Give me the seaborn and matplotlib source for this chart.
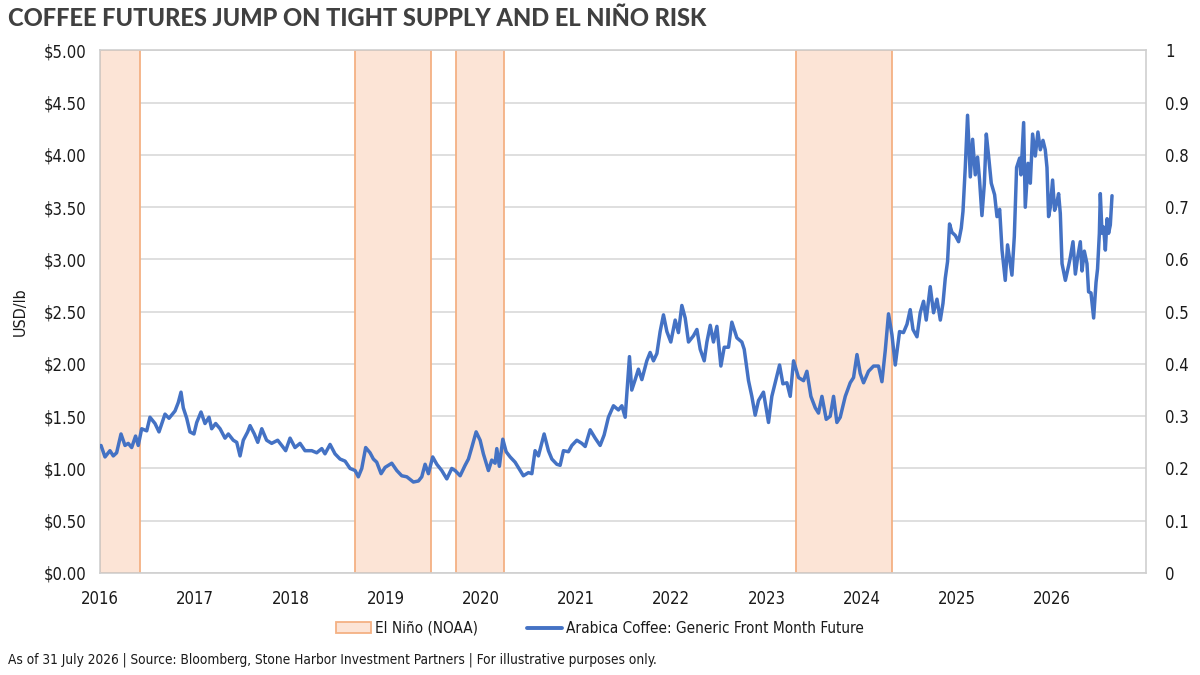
import matplotlib
matplotlib.use("Agg")
import matplotlib.pyplot as plt
from matplotlib.patches import Patch
from matplotlib.lines import Line2D
from matplotlib.ticker import FuncFormatter
import seaborn as sns
import pandas as pd

# El Nino periods (decimal years)
nino_start = [2016.0, 2018.68, 2019.74, 2023.31]
nino_end = [2016.42, 2019.48, 2020.24, 2024.32]

# Arabica coffee front month, USD/lb
years = [
    2016.011, 2016.053, 2016.105, 2016.140, 2016.175, 2016.221, 2016.263, 2016.297, 2016.333, 2016.374,
    2016.402, 2016.438, 2016.491, 2016.525, 2016.578, 2016.620, 2016.683, 2016.725, 2016.788, 2016.822,
    2016.851, 2016.875, 2016.911, 2016.945, 2016.987, 2017.016, 2017.061, 2017.103, 2017.145, 2017.173,
    2017.215, 2017.261, 2017.313, 2017.348, 2017.400, 2017.436, 2017.471, 2017.505, 2017.551, 2017.576,
    2017.621, 2017.657, 2017.699, 2017.750, 2017.803, 2017.866, 2017.909, 2017.950, 2017.996, 2018.048,
    2018.101, 2018.153, 2018.224, 2018.276, 2018.329, 2018.363, 2018.416, 2018.468, 2018.521, 2018.574,
    2018.626, 2018.679, 2018.713, 2018.749, 2018.790, 2018.836, 2018.871, 2018.906, 2018.952, 2018.994,
    2019.064, 2019.117, 2019.169, 2019.222, 2019.291, 2019.344, 2019.379, 2019.414, 2019.449, 2019.494,
    2019.537, 2019.589, 2019.642, 2019.694, 2019.729, 2019.782, 2019.834, 2019.869, 2019.904, 2019.950,
    2019.992, 2020.026, 2020.079, 2020.114, 2020.149, 2020.167, 2020.194, 2020.230, 2020.265, 2020.307,
    2020.359, 2020.412, 2020.446, 2020.499, 2020.535, 2020.569, 2020.604, 2020.664, 2020.709, 2020.745,
    2020.797, 2020.832, 2020.867, 2020.919, 2020.955, 2021.007, 2021.060, 2021.095, 2021.147, 2021.200,
    2021.252, 2021.294, 2021.339, 2021.392, 2021.444, 2021.480, 2021.515, 2021.560, 2021.584, 2021.620,
    2021.654, 2021.690, 2021.742, 2021.777, 2021.812, 2021.848, 2021.882, 2021.917, 2021.953, 2021.994,
    2022.040, 2022.074, 2022.110, 2022.145, 2022.180, 2022.232, 2022.268, 2022.303, 2022.345, 2022.373,
    2022.408, 2022.442, 2022.478, 2022.520, 2022.555, 2022.600, 2022.635, 2022.688, 2022.740, 2022.765,
    2022.810, 2022.845, 2022.880, 2022.915, 2022.967, 2023.020, 2023.055, 2023.090, 2023.136, 2023.171,
    2023.213, 2023.248, 2023.283, 2023.335, 2023.388, 2023.423, 2023.465, 2023.511, 2023.545, 2023.581,
    2023.626, 2023.668, 2023.703, 2023.738, 2023.773, 2023.826, 2023.878, 2023.913, 2023.949, 2023.983,
    2024.018, 2024.070, 2024.123, 2024.175, 2024.211, 2024.246, 2024.280, 2024.316, 2024.351, 2024.396,
    2024.437, 2024.474, 2024.508, 2024.537, 2024.579, 2024.613, 2024.648, 2024.676, 2024.718, 2024.753,
    2024.789, 2024.824, 2024.852, 2024.876, 2024.900, 2024.921, 2024.946, 2024.981, 2025.016, 2025.044,
    2025.062, 2025.086, 2025.110, 2025.139, 2025.163, 2025.191, 2025.215, 2025.236, 2025.261, 2025.286,
    2025.307, 2025.331, 2025.359, 2025.394, 2025.419, 2025.447, 2025.472, 2025.506, 2025.530, 2025.576,
    2025.601, 2025.625, 2025.657, 2025.671, 2025.699, 2025.716, 2025.745, 2025.769, 2025.793, 2025.821,
    2025.849, 2025.874, 2025.902, 2025.926, 2025.944, 2025.961, 2025.979, 2026.003, 2026.024, 2026.049,
    2026.066, 2026.084, 2026.102, 2026.137, 2026.171, 2026.189, 2026.217, 2026.242, 2026.266, 2026.294,
    2026.312, 2026.336, 2026.364, 2026.381, 2026.406, 2026.434, 2026.459, 2026.475, 2026.494, 2026.504,
    2026.522, 2026.539, 2026.557, 2026.575, 2026.591, 2026.609, 2026.627,
]
price = [
    1.22, 1.11, 1.17, 1.12, 1.15, 1.33, 1.22, 1.24, 1.20, 1.31,
    1.22, 1.38, 1.36, 1.49, 1.43, 1.35, 1.52, 1.48, 1.55, 1.63,
    1.73, 1.58, 1.48, 1.35, 1.33, 1.44, 1.54, 1.43, 1.49, 1.38,
    1.43, 1.38, 1.29, 1.33, 1.27, 1.25, 1.12, 1.27, 1.35, 1.41,
    1.33, 1.25, 1.38, 1.27, 1.24, 1.27, 1.22, 1.17, 1.29, 1.20,
    1.24, 1.17, 1.17, 1.15, 1.19, 1.14, 1.23, 1.14, 1.09, 1.07,
    1.00, 0.98, 0.92, 1.00, 1.20, 1.15, 1.09, 1.06, 0.95, 1.01,
    1.05, 0.98, 0.93, 0.92, 0.87, 0.88, 0.92, 1.04, 0.95, 1.11,
    1.04, 0.98, 0.90, 1.00, 0.98, 0.93, 1.03, 1.09, 1.20, 1.35,
    1.27, 1.14, 0.98, 1.08, 1.05, 1.19, 1.02, 1.28, 1.16, 1.11,
    1.06, 0.98, 0.93, 0.96, 0.95, 1.17, 1.12, 1.33, 1.17, 1.09,
    1.04, 1.03, 1.17, 1.16, 1.22, 1.27, 1.24, 1.21, 1.37, 1.29,
    1.22, 1.32, 1.49, 1.60, 1.56, 1.60, 1.49, 2.07, 1.75, 1.85,
    1.95, 1.85, 2.03, 2.11, 2.03, 2.10, 2.31, 2.47, 2.31, 2.21,
    2.42, 2.30, 2.56, 2.44, 2.21, 2.27, 2.33, 2.14, 2.03, 2.21,
    2.37, 2.21, 2.36, 1.98, 2.16, 2.16, 2.40, 2.25, 2.21, 2.14,
    1.84, 1.69, 1.51, 1.65, 1.73, 1.44, 1.69, 1.82, 1.99, 1.81,
    1.82, 1.69, 2.03, 1.87, 1.84, 1.93, 1.69, 1.58, 1.53, 1.69,
    1.47, 1.50, 1.69, 1.44, 1.49, 1.69, 1.82, 1.87, 2.09, 1.91,
    1.82, 1.93, 1.98, 1.98, 1.83, 2.13, 2.48, 2.28, 1.99, 2.31,
    2.30, 2.38, 2.52, 2.33, 2.26, 2.49, 2.60, 2.42, 2.74, 2.49,
    2.62, 2.42, 2.58, 2.82, 2.98, 3.34, 3.26, 3.23, 3.17, 3.30,
    3.46, 3.88, 4.38, 3.79, 4.15, 3.81, 3.98, 3.76, 3.42, 3.72,
    4.20, 3.99, 3.73, 3.62, 3.41, 3.48, 3.09, 2.80, 3.14, 2.85,
    3.22, 3.88, 3.97, 3.81, 4.31, 3.50, 3.92, 3.73, 4.20, 3.99,
    4.22, 4.05, 4.14, 4.05, 3.88, 3.41, 3.50, 3.76, 3.47, 3.55,
    3.63, 3.44, 2.96, 2.80, 2.94, 3.02, 3.17, 2.86, 3.02, 3.17,
    2.89, 3.08, 2.96, 2.69, 2.68, 2.44, 2.78, 2.91, 3.25, 3.63,
    3.25, 3.31, 3.09, 3.39, 3.25, 3.33, 3.61,
]

year_ticks = list(range(2016, 2027))
price_ticks = [0, 0.5, 1.0, 1.5, 2.0, 2.5, 3.0, 3.5, 4.0, 4.5, 5.0]
right_ticks = [0, 0.1, 0.2, 0.3, 0.4, 0.5, 0.6, 0.7, 0.8, 0.9, 1.0]

title = "COFFEE FUTURES JUMP ON TIGHT SUPPLY AND EL NIÑO RISK"
footnote = ("As of 31 July 2026 | Source: Bloomberg, Stone Harbor Investment Partners | "
            "For illustrative purposes only.")
line_label = "Arabica Coffee: Generic Front Month Future"
nino_label = "El Niño (NOAA)"

df = pd.DataFrame({"year": years, "price": price})

sns.set_style("white")
plt.rcParams["font.family"] = ["DejaVu Sans"]
plt.rcParams["font.stretch"] = "condensed"

blue = "#4472C4"
fill = "#FCE4D6"
edge = "#F4B183"
grid = "#D9D9D9"
txt = "#1A1A1A"

fig = plt.figure(figsize=(12, 6.75), dpi=100)
ax = fig.add_axes([0.0833, 0.1512, 0.8714, 0.774])

for s, e in zip(nino_start, nino_end):
    ax.axvspan(s, e, facecolor=fill, edgecolor=edge, linewidth=1.3, zorder=1)

sns.lineplot(data=df, x="year", y="price", ax=ax, color=blue, linewidth=2.5, zorder=3)

ax.set_xlim(2016, 2026.98)
ax.set_ylim(0, 5)
ax.set_xticks(year_ticks)
ax.set_xticklabels([str(y) for y in year_ticks])
ax.set_yticks(price_ticks)
ax.yaxis.set_major_formatter(FuncFormatter(lambda v, p: f"${v:.2f}"))
ax.yaxis.grid(True, color=grid, linewidth=1.2, zorder=0)
ax.set_axisbelow(True)
ax.set_xlabel("")
ax.set_ylabel("USD/lb", fontsize=11.5, color=txt)
ax.yaxis.set_label_coords(-0.069, 0.5)
ax.tick_params(axis="y", length=0, labelsize=12, labelcolor=txt, pad=10)
ax.tick_params(axis="x", length=5, color=grid, labelsize=12, labelcolor=txt, pad=7)
for side in ["left", "bottom", "right", "top"]:
    ax.spines[side].set_color("#CFCFCF")
    ax.spines[side].set_linewidth(1.2)

ax2 = ax.twinx()
ax2.set_ylim(0, 1)
ax2.set_yticks(right_ticks)
ax2.set_yticklabels(["0" if t == 0 else ("1" if t == 1 else f"{t:.1f}") for t in right_ticks])
ax2.tick_params(axis="y", length=0, labelsize=12, labelcolor=txt, pad=14)
for side in ["left", "bottom", "right", "top"]:
    ax2.spines[side].set_visible(False)

handles = [
    Patch(facecolor=fill, edgecolor=edge, linewidth=1.3, label=nino_label),
    Line2D([0], [0], color=blue, linewidth=2.8, label=line_label),
]
fig.legend(handles=handles, loc="center", bbox_to_anchor=(0.50, 0.069), ncol=2,
           frameon=False, fontsize=11, handlelength=2.3, columnspacing=3.2,
           handletextpad=0.25, labelcolor=txt)

fig.text(0.007, 0.972, title, fontsize=17, fontweight="black", color="#404040",
         family=["Lato", "DejaVu Sans"], stretch="normal", va="center", ha="left")
fig.text(0.007, 0.022, footnote, fontsize=9.8, color=txt, va="center", ha="left")

fig.savefig("out.png", dpi=100)
